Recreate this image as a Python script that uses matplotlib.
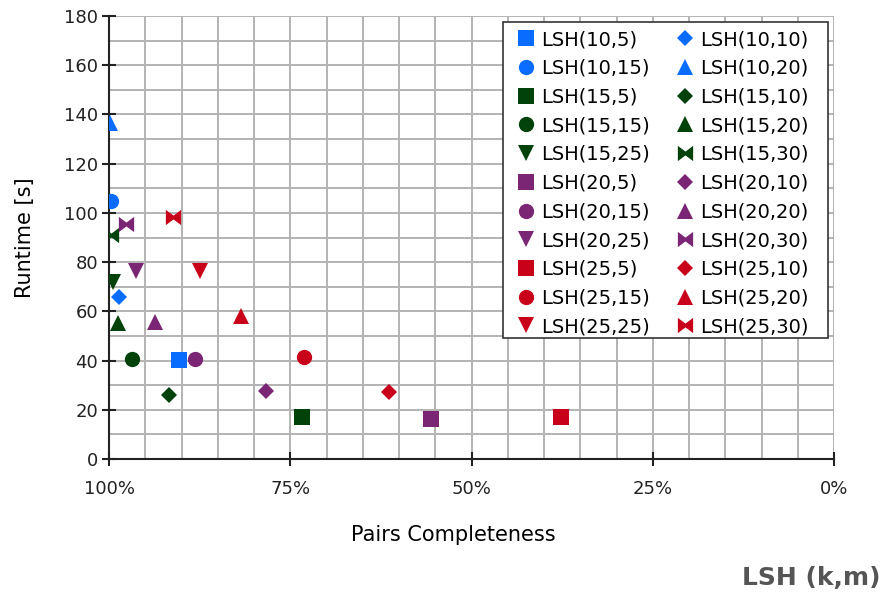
import numpy as np
import matplotlib
matplotlib.use("Agg")
import matplotlib.pyplot as plt
from matplotlib.path import Path
from matplotlib.patches import Rectangle
from matplotlib.ticker import MultipleLocator, FuncFormatter

plt.rcParams['font.family'] = ['DejaVu Sans']

# (k, m) configurations, pairs completeness [%] and runtime [s]
labels = ["LSH(10,5)", "LSH(10,10)", "LSH(10,15)", "LSH(10,20)",
          "LSH(15,5)", "LSH(15,10)", "LSH(15,15)", "LSH(15,20)", "LSH(15,25)", "LSH(15,30)",
          "LSH(20,5)", "LSH(20,10)", "LSH(20,15)", "LSH(20,20)", "LSH(20,25)", "LSH(20,30)",
          "LSH(25,5)", "LSH(25,10)", "LSH(25,15)", "LSH(25,20)", "LSH(25,25)", "LSH(25,30)"]
completeness = [90.4, 98.6, 99.7, 99.9,
                73.4, 91.7, 96.8, 98.7, 99.4, 99.7,
                55.6, 78.4, 88.1, 93.6, 96.3, 97.7,
                37.6, 61.4, 73.1, 81.8, 87.4, 91.2]
runtime = [40.2, 65.7, 104.8, 136.5,
           17.0, 26.2, 40.5, 55.1, 72.0, 91.0,
           16.4, 27.6, 40.6, 55.8, 76.5, 95.4,
           17.0, 27.1, 41.6, 58.1, 76.5, 98.5]

bowtie = Path([(-1, 1), (0, 0.25), (1, 1), (1, -1), (0, -0.25), (-1, -1), (-1, 1)],
              [Path.MOVETO] + [Path.LINETO] * 5 + [Path.CLOSEPOLY])
colors = {"10": "#0a6cff", "15": "#00420a", "20": "#7b2575", "25": "#c9001a"}
markers = {"5": ("s", 11), "10": ("D", 8), "15": ("o", 11), "20": ("^", 11),
           "25": ("v", 11), "30": (bowtie, 11)}

W, H = 884, 593
fig = plt.figure(figsize=(W / 100, H / 100), dpi=100)
ax = fig.add_axes([109 / W, 1 - 459 / H, 725 / W, 443 / H])

handles = []
for lab, x, y in zip(labels, completeness, runtime):
    k, m = lab[4:-1].split(",")
    mk, ms = markers[m]
    h, = ax.plot(x, y, linestyle="none", marker=mk, markersize=ms,
                 color=colors[k], markeredgewidth=0, label=lab, zorder=3)
    handles.append(h)

ax.set_xlim(100, 0)
ax.set_ylim(0, 180)
ax.xaxis.set_major_locator(MultipleLocator(25))
ax.xaxis.set_minor_locator(MultipleLocator(5))
ax.yaxis.set_major_locator(MultipleLocator(20))
ax.yaxis.set_minor_locator(MultipleLocator(10))
ax.xaxis.set_major_formatter(FuncFormatter(lambda v, p: f"{v:.0f}%"))
ax.grid(which="both", color="#b3b3b3", linewidth=1.4, zorder=0)
ax.set_axisbelow(True)
for s in ["top", "right"]:
    ax.spines[s].set_visible(False)
for s in ["left", "bottom"]:
    ax.spines[s].set_linewidth(1.5)
    ax.spines[s].set_color("#222222")
ax.tick_params(which="major", direction="inout", length=10, width=1.5,
               labelsize=13, colors="#222222")
ax.tick_params(which="minor", length=0)
ax.tick_params(axis="x", pad=10)
ax.tick_params(axis="y", pad=3)

ax.set_ylabel("Runtime [s]", fontsize=15)
ax.yaxis.set_label_coords(-(109 - 25) / 725, 0.5)
ax.set_xlabel("Pairs Completeness", fontsize=15)
ax.xaxis.set_label_coords((453 - 109) / 725, -(535 - 459) / 443)
ax.xaxis.label.set_va("center")
ax.yaxis.label.set_va("center")

# legend box drawn separately so its padding matches the original
box = Rectangle((503 / W, 1 - 338 / H), 325 / W, 316 / H, transform=fig.transFigure,
                facecolor="white", edgecolor="#333333", linewidth=1.2, zorder=4)
fig.patches.append(box)

# legend in row order (two columns)
order = list(range(0, 22, 2)) + list(range(1, 22, 2))
leg = fig.legend([handles[i] for i in order], [labels[i] for i in order],
                 ncol=2, loc="upper left", bbox_to_anchor=(520 / W, 1 - 30 / H),
                 fontsize=14, frameon=False,
                 handlelength=0.65, handletextpad=0.45, columnspacing=1.48,
                 labelspacing=0.5, borderpad=0, borderaxespad=0)
leg.set_zorder(5)

fig.text(880 / W, 1 - 578 / H, "LSH (k,m)", ha="right", va="center",
         fontsize=18, fontweight="bold", color="#555555")

fig.savefig("out.png", dpi=100)
